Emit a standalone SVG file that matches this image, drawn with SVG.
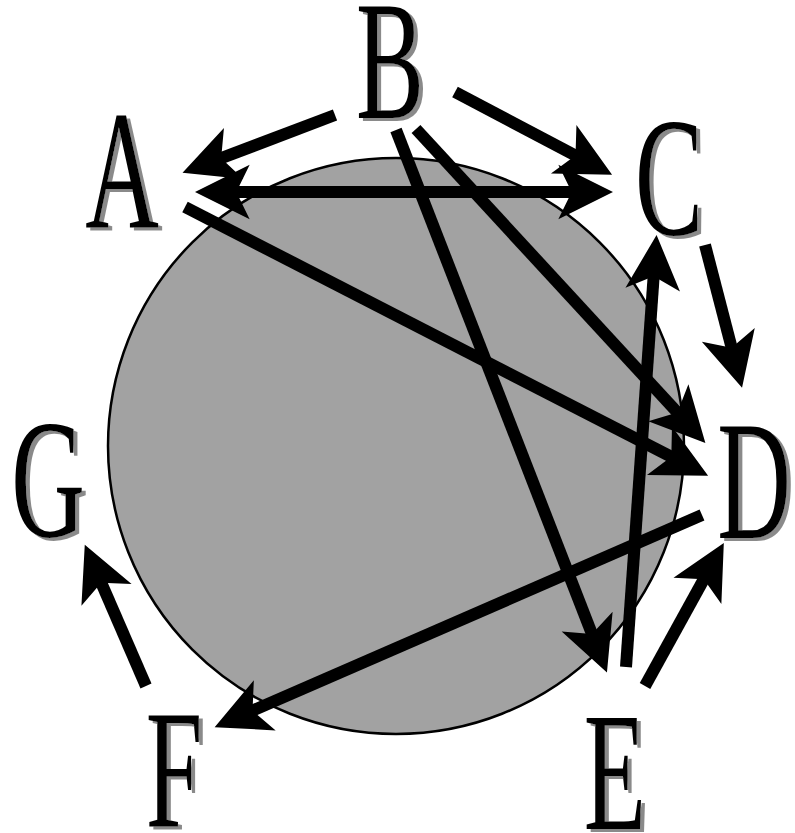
<svg xmlns="http://www.w3.org/2000/svg" width="795" height="833" viewBox="0 0 795 833">
<style>
.lbl{font-family:"Liberation Serif","Times New Roman",serif;font-size:170px;text-anchor:middle;fill:#000;filter:url(#shadow)}
.edge{stroke:#000;stroke-width:12;fill:none;marker-end:url(#ah)}
</style>
<defs>
<filter id="shadow" x="-20%" y="-20%" width="150%" height="150%">
<feOffset in="SourceAlpha" dx="7" dy="3" result="off"/>
<feFlood flood-color="#8a8a8a"/>
<feComposite in2="off" operator="in" result="sh"/>
<feMerge><feMergeNode in="sh"/><feMergeNode in="SourceGraphic"/></feMerge>
</filter>
<marker id="ah" markerUnits="userSpaceOnUse" orient="auto-start-reverse" refX="0" refY="0" markerWidth="80" markerHeight="80" viewBox="-30 -30 60 60" overflow="visible">
<path d="M21,0 L-20,-20.5 L-10,0 L-20,20.5 Z" fill="#000"/>
</marker>
</defs>
<rect width="795" height="833" fill="#fff"/>
<circle id="ring" cx="396" cy="446" r="288" fill="#a2a2a2" stroke="#000" stroke-width="2.5"/>
<g id="connectors">
<line class="edge" x1="335" y1="115" x2="208.7" y2="162.9"/>
<line class="edge" x1="455" y1="92" x2="587.3" y2="161.7"/>
<line class="edge" x1="223" y1="192" x2="585" y2="192" marker-start="url(#ah)"/>
<line class="edge" x1="185" y1="207" x2="683.2" y2="462.9"/>
<line class="edge" x1="396" y1="130" x2="596.8" y2="646.4"/>
<line class="edge" x1="416" y1="129" x2="686.4" y2="422.3"/>
<line class="edge" x1="705" y1="245" x2="735" y2="360.6"/>
<line class="edge" x1="626" y1="667" x2="654.6" y2="263"/>
<line class="edge" x1="702" y1="515" x2="240.3" y2="716"/>
<line class="edge" x1="645" y1="686" x2="710.3" y2="567.5"/>
<line class="edge" x1="146" y1="686" x2="95.9" y2="570.4"/>
</g>
<g id="node-B"><text class="lbl" transform="translate(390,118) scale(0.6,1)">B</text></g>
<g id="node-A"><text class="lbl" transform="translate(122,228) scale(0.6,1)">A</text></g>
<g id="node-C"><text class="lbl" transform="translate(669,234) scale(0.6,1)">C</text></g>
<g id="node-G"><text class="lbl" transform="translate(48,536) scale(0.6,1)">G</text></g>
<g id="node-D"><text class="lbl" transform="translate(754,538) scale(0.6,1)">D</text></g>
<g id="node-F"><text class="lbl" transform="translate(174,826) scale(0.6,1)">F</text></g>
<g id="node-E"><text class="lbl" transform="translate(615,829) scale(0.6,1)">E</text></g>
</svg>
